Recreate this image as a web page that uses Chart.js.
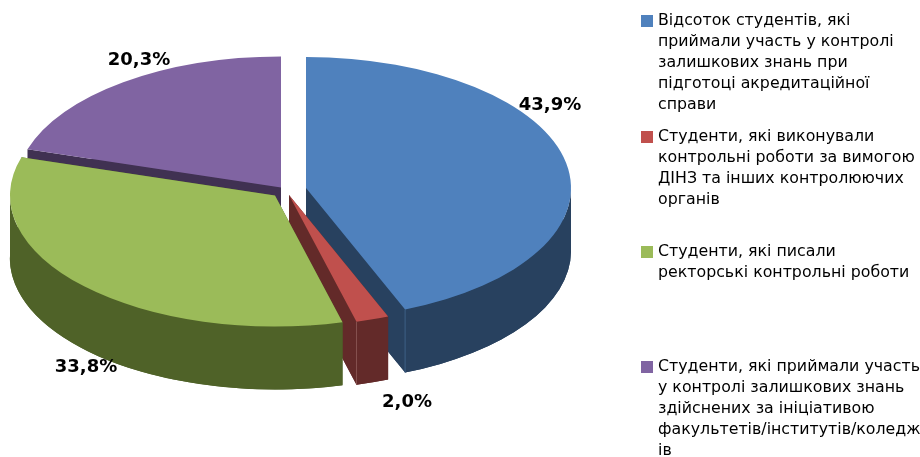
<!DOCTYPE html>
<html><head><meta charset="utf-8">
<style>html,body{margin:0;padding:0;background:#fff}#w{position:relative;width:920px;height:457px}</style>
<script src="https://cdn.jsdelivr.net/npm/chart.js@4"></script>
</head><body><div id="w"><canvas id="c" width="920" height="457"></canvas></div>
<script>
const categories = [
  ["Відсоток студентів, які","приймали участь у контролі","залишкових знань при","підготоці акредитаційної","справи"],
  ["Студенти, які виконували","контрольні роботи за вимогою","ДІНЗ та інших контролюючих","органів"],
  ["Студенти, які писали","ректорські контрольні роботи"],
  ["Студенти, які приймали участь","у контролі залишкових знань","здійснених за ініціативою","факультетів/інститутів/коледж","ів"]
];
const shareValues = [43.9, 2.0, 33.8, 20.3];
const valueLabels = ["43,9%","2,0%","33,8%","20,3%"];
const topColors = ["#4f81bd","#c0504d","#9bbb59","#8064a2"];
const wallColors = ["#28415f","#632a29","#4f6228","#403152"];
const edgeColors = ["#3f6086","#85504e",null,null];
const explodeX = [18, 1, -13, -7];
const explodeY = [-1.5, 5.5, 6, -2];
const wallOrder = [3, 0, 1, 2];
const labelCenters = [[550,105],[407,402],[86,367],[139,60]];
const legendTops = [21, 137, 252, 367];

const CX = 288, CY = 189.5, RX = 265, RY = 131, DEPTH = 63, K = RY / RX;
const LEGEND_FONT = '15.8px "DejaVu Sans"';
const LABEL_FONT = 'bold 18px "DejaVu Sans"';

const pie3d = {
  id: 'pie3d',
  afterDatasetsUpdate(chart) {
    chart.getDatasetMeta(0).data.forEach((arc, i) => {
      arc.x = CX + explodeX[i];
      arc.y = (CY + explodeY[i]) / K;
      arc.outerRadius = RX;
    });
  },
  beforeDatasetsDraw(chart) {
    const ctx = chart.ctx, arcs = chart.getDatasetMeta(0).data;
    wallOrder.forEach(i => {
      const a = arcs[i], x = a.x, y = a.y * K;
      const s = a.startAngle, e = a.endAngle;
      ctx.fillStyle = wallColors[i];
      // lower sector
      ctx.beginPath();
      ctx.moveTo(x, y + DEPTH);
      ctx.ellipse(x, y + DEPTH, RX, RY, 0, s, e);
      ctx.closePath();
      ctx.fill();
      // the two cut faces
      [s, e].forEach(t => {
        const tx = x + Math.cos(t) * RX, ty = y + Math.sin(t) * RY;
        ctx.beginPath();
        ctx.moveTo(x, y);
        ctx.lineTo(tx, ty);
        ctx.lineTo(tx, ty + DEPTH);
        ctx.lineTo(x, y + DEPTH);
        ctx.closePath();
        ctx.fill();
      });
      // outer wall on the front half only
      const fs = Math.max(s, 0), fe = Math.min(e, Math.PI);
      if (fe > fs) {
        ctx.beginPath();
        ctx.ellipse(x, y, RX, RY, 0, fs, fe);
        ctx.ellipse(x, y + DEPTH, RX, RY, 0, fe, fs, true);
        ctx.closePath();
        ctx.fill();
      }
      if (edgeColors[i]) {
        const ex = x + Math.cos(e) * RX, ey = y + Math.sin(e) * RY;
        ctx.strokeStyle = edgeColors[i];
        ctx.lineWidth = 1;
        ctx.beginPath();
        ctx.moveTo(ex, ey);
        ctx.lineTo(ex, ey + DEPTH);
        ctx.stroke();
      }
    });
    ctx.save();
    ctx.scale(1, K);
  },
  afterDatasetsDraw(chart) {
    const ctx = chart.ctx;
    ctx.restore();
    ctx.save();
    ctx.fillStyle = '#000';
    ctx.textAlign = 'center';
    ctx.textBaseline = 'middle';
    ctx.font = LABEL_FONT;
    valueLabels.forEach((t, i) => ctx.fillText(t, labelCenters[i][0], labelCenters[i][1]));
    ctx.textAlign = 'left';
    ctx.font = LEGEND_FONT;
    categories.forEach((lines, i) => {
      const y0 = legendTops[i];
      ctx.fillStyle = topColors[i];
      ctx.fillRect(641, y0 - 6, 12, 12);
      ctx.fillStyle = '#000';
      lines.forEach((l, j) => ctx.fillText(l, 658, y0 + j * 21));
    });
    ctx.restore();
  }
};

new Chart(document.getElementById('c'), {
  type: 'pie',
  data: {
    labels: categories.map(c => c.join(' ')),
    datasets: [{
      data: shareValues,
      backgroundColor: topColors,
      borderWidth: 0,
      clip: false,
      radius: RX
    }]
  },
  options: {
    responsive: false,
    animation: false,
    events: [],
    plugins: { legend: { display: false }, tooltip: { enabled: false } }
  },
  plugins: [pie3d]
});
</script>
</body></html>
